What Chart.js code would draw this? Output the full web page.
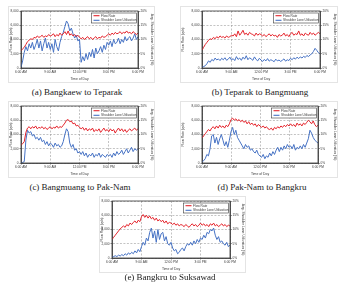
<!DOCTYPE html>
<html>
<head>
<meta charset="utf-8">
<script src="https://cdn.jsdelivr.net/npm/chart.js@4.4.0/dist/chart.umd.min.js"></script>
<style>
  html, body { margin: 0; padding: 0; background: #fff; }
  body { width: 342px; height: 292px; position: relative; overflow: hidden; }
  .panel { position: absolute; outline: 1px solid #e4e4e4; outline-offset: -1px; }
  .panel canvas { position: absolute; left: 0; top: 0; }
  .cap {
    position: absolute; font-family: "Liberation Serif", serif; font-size: 9px;
    line-height: 10px; color: #222; white-space: nowrap; transform: translateX(-50%);
  }
</style>
</head>
<body>
<div id="root"></div>
<script>
"use strict";

// ─── Data (10-minute readings, 6:00 AM → 6:00 PM) ─────────────
const timesMin = Array.from({ length: 73 }, (_, i) => 360 + i * 10);
const xTickLabels = ["6:00 AM", "9:00 AM", "12:00 PM", "3:00 PM", "6:00 PM"];
const seriesLabels = ["Flow Rate", "Shoulder Lane Utilization"];
const captions = [
  "(a) Bangkaew to Teparak",
  "(b) Teparak to Bangmuang",
  "(c) Bangmuang to Pak-Nam",
  "(d) Pak-Nam to Bangkru",
  "(e) Bangkru to Suksawad",
];

// flow rate, vph
const flowA = [2400, 2700, 2900, 3300, 3700, 3900, 4100,
  4000, 4300, 4200, 4500, 4300, 4400, 4600, 4300, 4500, 4400, 4700, 4500,
  4600, 4800, 4400, 4700, 4500, 4900, 4600, 4800, 5100, 4700, 5200, 4600,
  4800, 4500, 4700, 4400, 4600, 4300, 4100, 4300, 4000, 4200, 4400, 4100,
  4300, 4000, 4200, 4400, 4100, 4300, 4200, 4500, 4300, 4400, 4600, 4800,
  4600, 4900, 4700, 5000, 4800, 4900, 5100, 4800, 5000, 4900, 5200, 4900,
  5000, 4800, 5100, 4900, 4700, 4900];
const flowB = [2500, 2900, 3300, 3600, 3900, 4100, 4000,
  4300, 4100, 4400, 4200, 4500, 4300, 4400, 4200, 4500, 4300, 4400, 4600,
  4500, 4800, 4400, 5200, 4600, 4900, 5300, 4700, 4900, 4600, 5000, 4800,
  4700, 4500, 4900, 4600, 4800, 4700, 4500, 4700, 4400, 4600, 4800, 4500,
  4700, 4500, 4600, 4300, 4700, 4500, 4600, 4900, 4500, 4700, 4400, 4800,
  5000, 4600, 4800, 4700, 5200, 4600, 4800, 4500, 4900, 4700, 4600, 5000,
  4700, 4900, 4600, 4800, 5000, 4800];
const flowC = [2500, 2700, 3000, 4300, 4900, 5100, 4800,
  5100, 4900, 5200, 4800, 5000, 4900, 5100, 4800, 5000, 4700, 4900, 5100,
  4800, 5000, 4900, 5200, 4900, 5100, 5000, 5300, 5600, 6000, 6100, 5800,
  5900, 5500, 5600, 5200, 5300, 5000, 4800, 5000, 4600, 4900, 4500, 4800,
  4600, 4900, 4400, 4700, 4500, 4800, 4300, 4600, 4900, 4500, 4700, 4400,
  4800, 4500, 4700, 4200, 4600, 4900, 4500, 4800, 4400, 4700, 4300, 4600,
  4800, 4500, 4700, 4900, 4600, 4800];
const flowD = [3500, 3800, 4100, 4400, 4700, 4500, 4900,
  5100, 4800, 5200, 4900, 5300, 5000, 5200, 4900, 5300, 5100, 5500, 6100,
  6300, 6000, 6200, 5900, 6100, 5800, 6000, 5700, 5900, 5500, 5800, 5400,
  5600, 5300, 5500, 5100, 5400, 5200, 5000, 5200, 4900, 5100, 4800, 4700,
  4900, 4600, 5000, 4800, 5100, 4900, 5200, 5000, 5300, 5100, 5400, 5200,
  5500, 5200, 5400, 5100, 5600, 5300, 5500, 5200, 5600, 5400, 5700, 6000,
  5800, 5500, 5900, 5400, 5100, 5300];
const flowE = [2600, 2900, 3200, 3500, 3800, 4100, 4300,
  4500, 4300, 4700, 4500, 4900, 4700, 5000, 5200, 4900, 5300, 5100, 5800,
  6100, 5700, 6000, 5600, 5900, 5500, 5700, 5300, 5600, 5200, 5400, 5100,
  5300, 4900, 5200, 4800, 5000, 4900, 4700, 4900, 4600, 4800, 4500, 4700,
  4600, 4400, 4700, 4500, 4300, 4600, 4800, 4500, 4700, 4400, 4600, 4900,
  4600, 4800, 4500, 4700, 4400, 4800, 4600, 4900, 4500, 4700, 4400, 4600,
  4800, 4500, 4700, 4400, 4600, 4500];

// average shoulder lane utilization, %
const utilA = [0.3, 2.5, 5.5, 7.5, 6.0, 8.5, 7.0,
  9.0, 6.5, 8.0, 10.0, 7.0, 9.5, 6.0, 8.5, 10.5, 7.0, 9.0, 6.5,
  8.5, 5.5, 10.0, 7.5, 6.0, 9.0, 11.0, 12.5, 14.5, 16.5, 15.5, 13.0,
  14.0, 12.0, 10.5, 11.5, 9.5, 10.0, 2.0, 4.0, 2.5, 5.0, 3.0, 5.5,
  4.0, 6.5, 3.5, 7.0, 5.0, 6.0, 7.5, 5.5, 8.0, 6.5, 9.0, 8.0,
  9.5, 7.5, 10.0, 8.5, 9.0, 10.5, 8.5, 10.0, 9.0, 11.0, 9.5, 10.5,
  11.0, 9.5, 10.5, 12.0, 10.0, 11.0];
const utilB = [0.3, 0.5, 0.8, 1.5, 2.5, 2.0, 3.0,
  2.5, 3.5, 2.8, 3.2, 2.6, 3.4, 2.9, 3.6, 2.7, 3.1, 3.8, 2.8,
  3.3, 2.6, 4.0, 3.0, 3.5, 2.7, 3.8, 3.1, 4.3, 2.9, 3.6, 3.2,
  2.7, 3.9, 3.0, 2.5, 3.4, 2.8, 2.3, 3.0, 2.5, 3.3, 2.4, 2.9,
  2.6, 2.2, 3.1, 2.5, 2.8, 2.3, 2.7, 3.2, 2.4, 2.9, 2.6, 3.4,
  2.9, 3.6, 3.1, 3.8, 3.3, 3.9, 3.5, 4.1, 3.7, 4.4, 4.0, 4.6,
  5.0, 5.8, 6.9, 6.2, 5.4, 5.0];
const utilC = [0.2, 0.2, 0.5, 8.0, 11.5, 10.5, 11.0,
  9.5, 10.0, 8.5, 9.0, 8.0, 9.0, 7.5, 8.0, 6.5, 7.5, 6.0, 7.0,
  6.5, 5.5, 7.0, 6.0, 6.5, 5.5, 6.0, 7.5, 10.0, 12.0, 11.0, 7.0,
  5.5, 6.5, 4.5, 5.0, 3.5, 4.0, 3.0, 4.0, 2.5, 3.5, 2.0, 3.0,
  2.5, 3.5, 2.0, 3.0, 2.5, 3.5, 2.0, 3.0, 2.5, 2.0, 3.0, 2.5,
  3.0, 2.0, 3.5, 2.5, 4.0, 3.0, 3.5, 4.5, 3.0, 4.0, 5.0, 3.5,
  4.5, 5.5, 4.0, 5.0, 4.5, 5.0];
const utilD = [0.3, 0.8, 1.5, 3.0, 2.5, 5.0, 9.5,
  10.0, 7.0, 9.0, 6.5, 8.5, 10.0, 8.0, 6.0, 7.5, 5.5, 8.0, 11.0,
  12.5, 10.0, 11.5, 9.0, 8.0, 7.0, 6.0, 5.0, 6.5, 5.5, 6.0, 4.5,
  5.0, 4.0, 3.5, 4.5, 3.0, 2.5, 2.0, 3.0, 1.5, 2.5, 2.0, 3.5,
  2.5, 4.0, 3.0, 4.5, 5.5, 4.0, 5.5, 4.5, 6.0, 5.0, 6.5, 5.5,
  6.0, 5.0, 6.5, 4.5, 5.5, 5.0, 6.0, 5.0, 6.5, 5.5, 7.0, 8.5,
  11.5, 10.5, 9.0, 8.0, 7.5, 7.0];
const utilE = [0.3, 0.5, 0.8, 0.5, 1.0, 0.7, 1.2,
  0.8, 1.5, 1.0, 1.8, 1.3, 2.0, 1.5, 2.5, 1.8, 3.0, 2.2, 4.0,
  5.5, 4.5, 7.0, 6.0, 9.0, 10.5, 7.0, 9.5, 5.5, 10.0, 6.5, 8.5,
  9.0, 6.0, 7.5, 5.0, 4.5, 5.5, 3.5, 2.5, 3.0, 1.5, 2.0, 3.0,
  3.5, 2.5, 4.0, 5.0, 4.5, 5.5, 4.5, 6.0, 5.0, 6.5, 5.5, 7.0,
  6.5, 8.0, 7.0, 9.0, 8.5, 10.0, 9.5, 10.5, 8.0, 6.5, 7.5, 5.5,
  6.0, 5.0, 4.5, 5.5, 4.0, 4.5];

// ─── Layout: outer box and plot area of each panel, page px ───
const panels = [
  { flow: flowA, util: utilA, box: [8, 6, 147, 77],   plot: [21, 11, 138, 68],   cap: [77, 87] },
  { flow: flowB, util: utilB, box: [180, 6, 158, 77], plot: [202, 11, 320, 68],  cap: [260, 87] },
  { flow: flowC, util: utilC, box: [8, 101, 147, 77], plot: [21, 106, 138, 163], cap: [80, 182] },
  { flow: flowD, util: utilD, box: [180, 101, 158, 77], plot: [202, 106, 318, 163], cap: [262, 182] },
  { flow: flowE, util: utilE, box: [99, 196, 147, 77], plot: [112, 201, 230, 258], cap: [170, 272] },
];

const RED = "#e4222a";
const BLUE = "#4672c4";
const INK = "#3a3a3a";
const GRID = "#9a9a9a";
const TICK_FONT = { family: "Arial, 'Liberation Sans', sans-serif", size: 3.2 };
const TITLE_FONT = { family: "Arial, 'Liberation Sans', sans-serif", size: 3.4 };

// solid frame round the plot area
const frame = {
  id: "frame",
  afterDraw(chart) {
    const { ctx, chartArea: a } = chart;
    ctx.save();
    ctx.strokeStyle = INK;
    ctx.lineWidth = 0.8;
    ctx.strokeRect(a.left, a.top, a.right - a.left, a.bottom - a.top);
    ctx.restore();
  },
};

// boxed legend in the top-right corner of the plot
const legendBox = {
  id: "legendBox",
  afterDraw(chart) {
    const { ctx, chartArea: a } = chart;
    const w = 45, h = 10;
    const x = a.right - w - 1.5, y = a.top + 2;
    ctx.save();
    ctx.fillStyle = "#fff";
    ctx.fillRect(x, y, w, h);
    ctx.strokeStyle = INK;
    ctx.lineWidth = 0.6;
    ctx.strokeRect(x, y, w, h);
    ctx.font = `${TICK_FONT.size}px ${TICK_FONT.family}`;
    ctx.textBaseline = "middle";
    chart.data.datasets.forEach((ds, i) => {
      const ly = y + 2.7 + i * 4.6;
      ctx.strokeStyle = ds.borderColor;
      ctx.lineWidth = 1.1;
      ctx.beginPath();
      ctx.moveTo(x + 2, ly);
      ctx.lineTo(x + 8, ly);
      ctx.stroke();
      ctx.fillStyle = INK;
      ctx.fillText(ds.label, x + 9.5, ly);
    });
    ctx.restore();
  },
};

const root = document.getElementById("root");

panels.forEach((p, k) => {
  const [bx, by, bw, bh] = p.box;
  const [pl, pt, pr, pb] = p.plot;

  const wrap = document.createElement("div");
  wrap.className = "panel";
  Object.assign(wrap.style, { left: bx + "px", top: by + "px", width: bw + "px", height: bh + "px" });
  const cv = document.createElement("canvas");
  cv.width = bw;
  cv.height = bh;
  wrap.appendChild(cv);
  root.appendChild(wrap);

  const cap = document.createElement("div");
  cap.className = "cap";
  cap.textContent = captions[k];
  cap.style.left = p.cap[0] + "px";
  cap.style.top = p.cap[1] + "px";
  root.appendChild(cap);

  const leftW = pl - bx;
  const rightW = bx + bw - pr;
  const bottomH = by + bh - pb;

  new Chart(cv, {
    type: "line",
    data: {
      datasets: [
        {
          label: seriesLabels[0],
          data: p.flow.map((v, i) => ({ x: timesMin[i], y: v })),
          yAxisID: "y",
          borderColor: RED,
          borderWidth: 1,
          pointRadius: 0,
          tension: 0,
        },
        {
          label: seriesLabels[1],
          data: p.util.map((v, i) => ({ x: timesMin[i], y: v })),
          yAxisID: "y1",
          borderColor: BLUE,
          borderWidth: 1,
          pointRadius: 0,
          tension: 0,
        },
      ],
    },
    options: {
      responsive: false,
      animation: false,
      events: [],
      layout: { padding: { top: pt - by, left: 0, right: 0, bottom: 0 } },
      plugins: { legend: { display: false }, tooltip: { enabled: false } },
      scales: {
        x: {
          type: "linear",
          min: 360,
          max: 1080,
          afterFit: (s) => { s.height = bottomH; },
          ticks: {
            stepSize: 180,
            autoSkip: false,
            maxRotation: 0,
            padding: 1,
            color: INK,
            font: TICK_FONT,
            callback: (v) => xTickLabels[(v - 360) / 180],
          },
          grid: { color: GRID, lineWidth: 0.6, tickLength: 1.5, tickColor: INK },
          border: { display: true, color: INK, width: 0.8, dash: [2, 1.5] },
          title: { display: true, text: "Time of Day", color: INK, font: TITLE_FONT, padding: { top: 1, bottom: 2 } },
        },
        y: {
          position: "left",
          min: 0,
          max: 8000,
          afterFit: (s) => { s.width = leftW; },
          ticks: {
            stepSize: 2000,
            padding: 1,
            color: INK,
            font: TICK_FONT,
            callback: (v) => v.toLocaleString("en-US"),
          },
          grid: { color: GRID, lineWidth: 0.6, tickLength: 1.5, tickColor: INK },
          border: { display: true, color: INK, width: 0.8, dash: [2, 1.5] },
          title: { display: true, text: "Flow Rate (vph)", color: INK, font: TITLE_FONT, padding: { top: 1, bottom: 1 } },
        },
        y1: {
          position: "right",
          min: 0,
          max: 20,
          afterFit: (s) => { s.width = rightW; },
          ticks: {
            stepSize: 5,
            padding: 1,
            color: INK,
            font: TICK_FONT,
            callback: (v) => v + "%",
          },
          grid: { drawOnChartArea: false, tickLength: 1.5, tickColor: INK },
          border: { display: true, color: INK, width: 0.8 },
          title: { display: true, text: "Avg. Shoulder Lane Utilization (%)", color: INK, font: TITLE_FONT, padding: { top: 1, bottom: 1 } },
        },
      },
    },
    plugins: [frame, legendBox],
  });
});
</script>
</body>
</html>
